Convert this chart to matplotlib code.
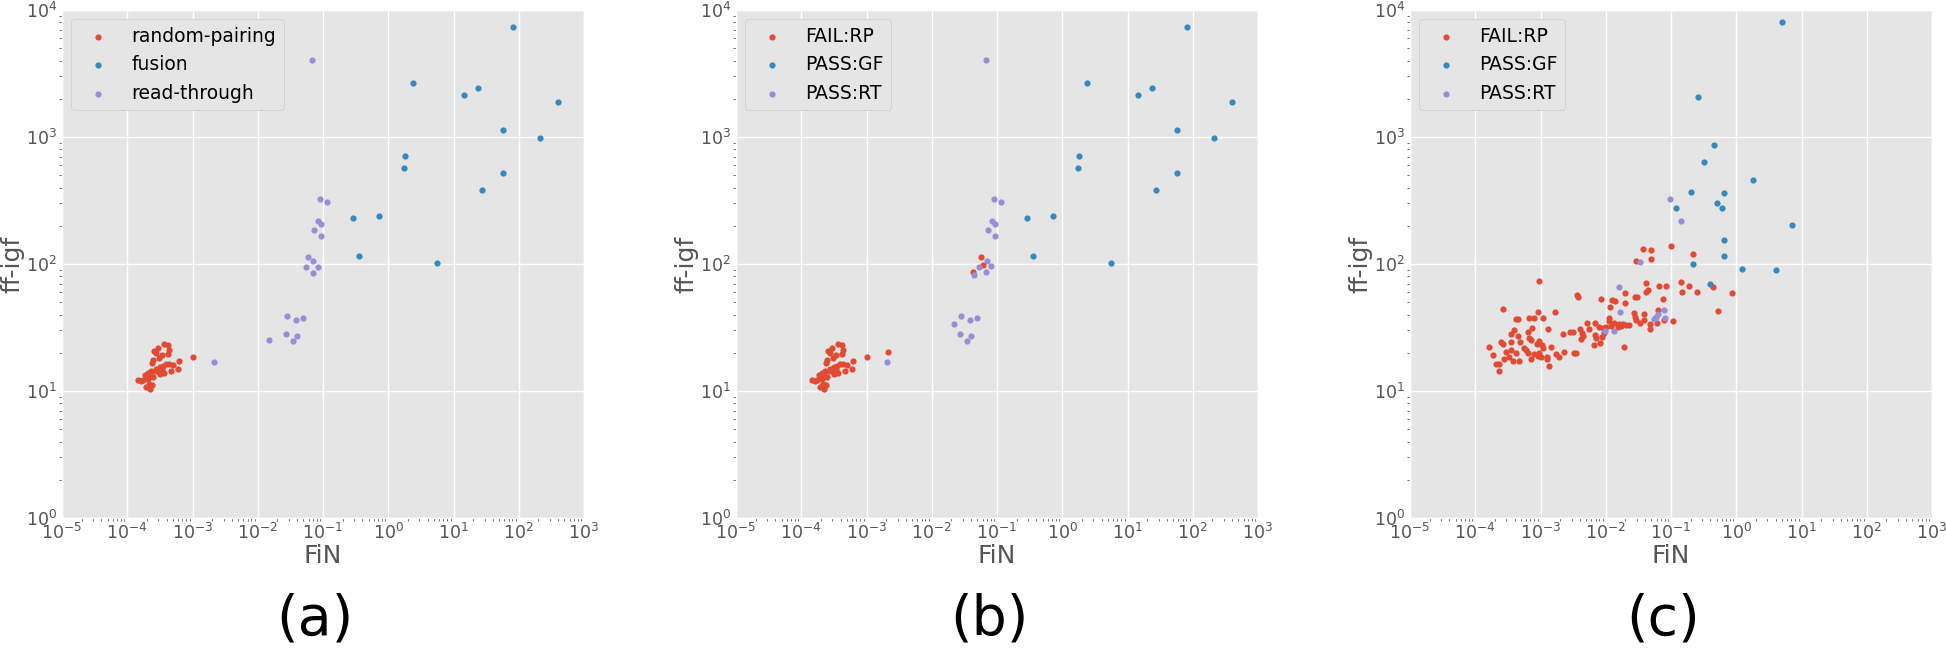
import numpy as np
import matplotlib
matplotlib.use('Agg')
import matplotlib.pyplot as plt

plt.style.use('ggplot')

# ---- panel (a) / (b): values ----
rp_fin = [2.54e-4, 2.95e-4, 3.72e-4, 4.18e-4, 4.33e-4, 4.23e-4, 3.43e-4, 3.05e-4, 2.48e-4, 2.36e-4,
          2.78e-4, 1.47e-4, 1.65e-4, 1.85e-4, 2.08e-4, 2.21e-4, 2.34e-4, 2.62e-4, 2.78e-4, 3.13e-4,
          3.51e-4, 3.94e-4, 4.43e-4, 4.98e-4, 6.14e-4, 5.93e-4, 4.70e-4, 3.72e-4, 3.13e-4, 2.48e-4,
          2.08e-4, 1.92e-4, 2.21e-4, 2.42e-4, 2.15e-4, 1.75e-4, 2.95e-4, 3.35e-4, 2.01e-4, 1.01e-3]
rp_igf = [20.6, 21.9, 23.3, 23.2, 21.2, 19.7, 19.2, 18.3, 17.7, 16.6,
          19.9, 12.3, 12.0, 13.3, 13.9, 13.7, 14.5, 14.4, 15.0, 15.5,
          15.8, 16.2, 16.4, 15.9, 17.2, 15.0, 14.5, 13.9, 13.5, 13.0,
          12.5, 10.7, 10.4, 11.1, 11.4, 12.3, 14.5, 14.7, 12.9, 18.4]

gf_fin = [81.8, 2.37, 14.7, 23.9, 403, 58.3, 209, 1.82, 1.76, 58.3, 26.9, 0.291, 0.711, 0.357, 5.52]
gf_igf = [7310, 2680, 2140, 2415, 1897, 1129, 988, 708, 573, 524, 383, 230, 239, 115, 102]

rt_fin_a = [0.0685, 0.0889, 0.116, 0.0851, 0.0944, 0.0724, 0.0944,
            0.0582, 0.0715, 0.0541, 0.0826, 0.0703,
            0.0280, 0.0387, 0.0496, 0.0272, 0.0404, 0.0348, 0.0151, 0.00216]
rt_igf_a = [4020, 325, 307, 219, 205, 185, 166,
            113, 105, 95.3, 95.3, 85.5,
            38.7, 36.0, 37.4, 28.3, 26.9, 24.9, 25.0, 16.9]

# panel (b) extra FAIL:RP points
rp_extra_fin_b = [2.11e-3, 0.0568, 0.0615, 0.0430]
rp_extra_igf_b = [20.2, 112.9, 97.6, 86.5]

rt_fin_b = [0.0685, 0.0889, 0.116, 0.0851, 0.0944, 0.0724, 0.0944,
            0.0698, 0.0535, 0.0812, 0.0690, 0.0445,
            0.0221, 0.0280, 0.0387, 0.0496, 0.0272, 0.0404, 0.0348, 0.00208]
rt_igf_b = [4020, 325, 307, 219, 205, 185, 166,
            105, 94.1, 95.9, 86.0, 81.4,
            33.9, 38.7, 36.0, 37.4, 28.3, 26.9, 24.9, 16.8]

# ---- panel (c) ----
rp_fin_c = [3.76e-2, 4.93e-2, 0.101, 2.94e-2, 4.93e-2, 0.220, 9.57e-4, 4.08e-2, 6.54e-2, 8.37e-2,
            0.141, 0.186, 1.99e-2, 4.38e-2, 4.13e-2, 0.147, 0.247, 3.57e-3, 3.75e-3, 8.44e-3,
            1.25e-2, 1.40e-2, 2.80e-2, 2.97e-2, 1.95e-2, 7.54e-2, 1.17e-2, 2.65e-4, 9.24e-4, 1.68e-3,
            4.15e-4, 4.56e-4, 6.65e-4, 7.84e-4, 1.10e-3, 2.67e-2, 3.80e-2, 2.84e-2, 6.24e-2, 3.90e-2,
            2.94e-2, 3.38e-2, 4.76e-2, 6.10e-2, 7.71e-2, 0.108, 4.76e-2, 1.11e-2, 1.13e-2, 1.35e-2,
            1.61e-2, 1.82e-2, 2.04e-2, 2.30e-2, 1.52e-2, 1.71e-2, 1.20e-2, 1.01e-2, 6.82e-3, 5.09e-3,
            7.87e-3, 8.95e-3, 9.50e-3, 8.65e-3, 7.16e-3, 6.82e-3, 6.51e-3, 8.15e-3, 5.46e-3, 4.07e-3,
            3.10e-3, 2.86e-3, 2.21e-3, 4.32e-3, 4.53e-3, 4.17e-3, 1.92e-2, 3.87e-4, 3.52e-4, 4.46e-4,
            7.39e-4, 1.32e-3, 6.34e-4, 6.65e-4, 7.13e-4, 9.57e-4, 8.71e-4, 1.05e-3, 1.45e-3, 4.90e-4,
            3.52e-4, 2.47e-4, 2.65e-4, 1.64e-4, 1.89e-4, 2.95e-4, 3.52e-4, 4.20e-4, 5.51e-4, 5.98e-4,
            6.34e-4, 8.02e-4, 9.57e-4, 1.10e-3, 1.24e-3, 1.28e-3, 1.72e-3, 1.89e-3, 2.31e-3, 3.29e-3,
            3.49e-3, 2.07e-4, 2.33e-4, 2.78e-4, 3.32e-4, 3.73e-4, 4.73e-4, 7.13e-4, 9.03e-4, 1.02e-3,
            1.36e-3, 2.28e-4, 0.437, 0.863, 0.530]
rp_igf_c = [132, 129, 139, 106, 109, 120, 74.0, 70.8, 67.5, 67.5,
            72.2, 67.1, 59.4, 62.4, 60.5, 60.5, 59.8, 57.0, 55.3, 52.7,
            52.1, 51.1, 54.7, 55.3, 49.0, 53.0, 45.6, 44.0, 41.9, 41.9,
            37.1, 36.7, 37.6, 37.8, 37.8, 40.9, 40.4, 38.0, 43.5, 36.2,
            36.2, 34.1, 33.7, 34.5, 36.2, 35.6, 31.0, 37.8, 35.8, 34.5,
            33.7, 33.7, 32.9, 33.3, 32.1, 32.5, 32.5, 32.1, 34.5, 34.1,
            31.7, 31.3, 28.4, 26.8, 26.0, 27.6, 23.0, 23.7, 30.6, 31.0,
            29.3, 29.0, 28.3, 28.4, 27.1, 25.5, 22.2, 30.2, 27.9, 27.1,
            31.1, 30.8, 29.1, 26.0, 25.2, 24.9, 23.4, 23.0, 22.3, 24.3,
            24.3, 24.3, 23.4, 22.1, 19.3, 20.3, 21.0, 20.0, 21.7, 21.0,
            19.8, 19.5, 20.0, 21.9, 18.6, 17.8, 19.6, 18.6, 20.1, 20.0,
            19.8, 16.3, 16.3, 17.8, 18.6, 17.3, 17.1, 17.8, 18.9, 18.6,
            15.7, 14.4, 66.4, 59.5, 42.9]

gf_fin_c = [5.09, 0.260, 0.456, 0.320, 1.78, 0.205, 0.652, 0.514, 0.604, 0.120,
            7.05, 0.641, 0.652, 0.221, 1.21, 4.02, 0.394]
gf_igf_c = [8040, 2054, 860, 636, 461, 369, 362, 300, 276, 274,
            204, 154, 116, 99.4, 90.8, 89.8, 69.6]

rt_fin_c = [0.0951, 0.142, 0.0330, 0.0161, 0.0163, 0.00985, 0.0134, 0.0555, 0.0589, 0.0624,
            0.0789, 0.0818]
rt_igf_c = [325, 219, 103, 66.4, 41.6, 29.7, 29.5, 36.6, 38.5, 40.4,
            43.5, 37.6]

panels = [
    ('(a)', ['random-pairing', 'fusion', 'read-through'],
     (rp_fin, rp_igf), (gf_fin, gf_igf), (rt_fin_a, rt_igf_a)),
    ('(b)', ['FAIL:RP', 'PASS:GF', 'PASS:RT'],
     (rp_fin + rp_extra_fin_b, rp_igf + rp_extra_igf_b), (gf_fin, gf_igf), (rt_fin_b, rt_igf_b)),
    ('(c)', ['FAIL:RP', 'PASS:GF', 'PASS:RT'],
     (rp_fin_c, rp_igf_c), (gf_fin_c, gf_igf_c), (rt_fin_c, rt_igf_c)),
]
colors = ['#E24A33', '#348ABD', '#988ED5']

fig = plt.figure(figsize=(19.46, 6.49), dpi=100)
lefts = [62 / 1946, 736 / 1946, 1410 / 1946]
W = 522 / 1946
B = 131 / 649
H = 508 / 649

for left, (tag, names, rp, gf, rt) in zip(lefts, panels):
    ax = fig.add_axes([left, B, W, H])
    for (xs, ys), c, n in zip([rp, gf, rt], colors, names):
        ax.scatter(xs, ys, s=20, color=c, linewidths=0, label=n)
    ax.set_xscale('log')
    ax.set_yscale('log')
    ax.set_xlim(1e-5, 1e3)
    ax.set_ylim(1e0, 1e4)
    ax.set_xticks([10.0 ** k for k in range(-5, 4)])
    ax.set_yticks([10.0 ** k for k in range(0, 5)])
    ax.tick_params(labelsize=12.5, length=0)
    ax.tick_params(which='minor', length=2)
    ax.grid(True, which='major', color='white', linewidth=1)
    ax.set_xlabel('FiN', fontsize=18, color='#555555', labelpad=1)
    ax.set_ylabel('ff-igf', fontsize=18, color='#555555', labelpad=1)
    leg = ax.legend(loc='upper left', scatterpoints=1, fontsize=13.5, fancybox=True,
                    facecolor='#E5E5E5', edgecolor='#CCCCCC', framealpha=1)
    for t in leg.get_texts():
        t.set_color('black')
    fig.text(left + W / 2 - 8 / 1946, 29 / 649, tag, fontsize=40, ha='center', va='center')

fig.savefig('out.png', dpi=100, facecolor='white')
